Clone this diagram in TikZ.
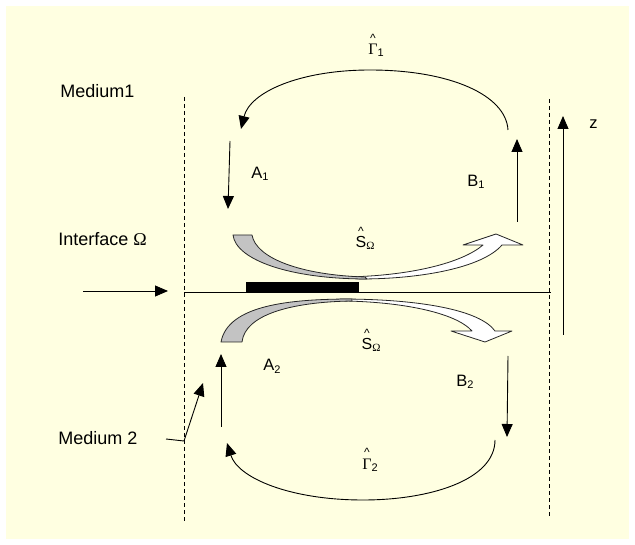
\documentclass[tikz,border=0pt]{standalone}
\usepackage{fontspec}
\setmainfont{Liberation Sans}
\newfontfamily\serifgr{Liberation Serif}
\usetikzlibrary{arrows.meta}
\definecolor{bgyellow}{RGB}{255,255,225}
\definecolor{tailgray}{RGB}{195,195,195}
\newcommand{\lowsub}[1]{\raisebox{-2pt}{\fontsize{11}{11}\selectfont #1}}
\newcommand{\lowgsub}[1]{\raisebox{-2pt}{\serifgr\fontsize{11}{11}\selectfont #1}}
\newcommand{\hatted}[2]{\leavevmode\ooalign{\hidewidth\raisebox{12.5pt}{\fontsize{12}{12}\selectfont\textasciicircum}\hidewidth\cr #1\cr}\rlap{#2}}
\begin{document}
\begin{tikzpicture}[x=1pt,y=-1pt,
  line width=0.9pt,
  tip/.style={-{Triangle[length=13pt,width=11pt]}},
  guide/.style={dash pattern=on 4pt off 3pt, line width=0.8pt},
  lbl/.style={inner sep=0pt, anchor=base west, font=\fontsize{16.5}{18}\selectfont},
  medium/.style={inner sep=0pt, anchor=base west, font=\fontsize{18}{20}\selectfont},
  gam/.style={inner sep=0pt, anchor=base, font=\fontsize{16}{18}\selectfont},
  band/.style={draw=black!85, line width=0.8pt, line join=round}
]
\useasboundingbox (0,0) rectangle (635,545);
\fill[bgyellow] (6,6) rectangle (629,539);

% guides
\draw[guide] (184,97) -- (184,521);
\draw[guide] (549,99) -- (549,516);
% interface
\coordinate (ifL) at (184,292);
\coordinate (ifR) at (551,292);
\draw[line width=0.8pt] (ifL) -- (ifR);
\fill (246,282) rectangle (359,293);
\coordinate (inS) at (83,291);
\coordinate (inE) at (168,291);
\draw[tip] (inS) -- (inE);

% z axis
\coordinate (zS) at (563,335);
\coordinate (zE) at (563,116);
\draw[tip] (zS) -- (zE);
\node[lbl] (z) at (589,129) {z};

% texts
\node[medium] (m1) at (60,98) {Medium1};
\node[medium] (iface) at (58,246) {Interface {\serifgr Ω}};
\node[medium] (m2) at (58,445) {Medium 2};

% straight arrows
\coordinate (a1s) at (230,141); \coordinate (a1e) at (228,209);
\coordinate (b1s) at (517,222); \coordinate (b1e) at (517,139);
\coordinate (a2s) at (221,427); \coordinate (a2e) at (221,354);
\coordinate (b2s) at (508,356); \coordinate (b2e) at (507,437);
\draw[tip] (a1s) -- (a1e);
\draw[tip] (b1s) -- (b1e);
\draw[tip] (a2s) -- (a2e);
\draw[tip] (b2s) -- (b2e);
\node[lbl] (A1) at (251,179) {A\lowsub{1}};
\node[lbl] (B1) at (467,187) {B\lowsub{1}};
\node[lbl] (A2) at (263,371) {A\lowsub{2}};
\node[lbl] (B2) at (456,387) {B\lowsub{2}};

% medium 2 pointer
\coordinate (p0) at (166,439);
\coordinate (p1) at (184,441);
\coordinate (p2) at (203,383);
\draw[tip] (p0) -- (p1) -- (p2);

% Gamma arcs
\coordinate (g1s) at (508,130);
\coordinate (g1t) at (370,70);
\coordinate (g1e) at (241,129);
\draw[tip] (g1s) .. controls (506,95) and (450,70) .. (g1t)
                .. controls (300,70) and (250,92) .. (g1e);
\coordinate (g2s) at (495,440);
\coordinate (g2b) at (363,500);
\coordinate (g2e) at (227,443);
\draw[tip] (g2s) .. controls (495,480) and (430,500) .. (g2b)
                .. controls (290,500) and (238,478) .. (g2e);

\node[gam] (G1) at (373,55) {\hatted{\serifgr Γ}{\lowsub{1}}};
\node[gam] (G2) at (367,469) {\hatted{\serifgr Γ}{\lowsub{2}}};

% upper curved arrow
\draw[band, fill=white] (360,279) .. controls (420,279) and (482,268) .. (502,245)
   -- (523,245) -- (496,234) -- (463,245) -- (483,245)
   .. controls (462,263) and (410,276) .. (345,277) -- cycle;
\draw[band, fill=tailgray] (233,235) .. controls (236,260) and (290,279) .. (367,279)
   -- (365,277) .. controls (300,275) and (256,258) .. (252,235) -- cycle;
\node[gam] (S1) at (361,248) {\hatted{S}{\lowgsub{Ω}}};

% lower curved arrow
\draw[band, fill=white] (340,299) .. controls (420,299) and (480,310) .. (495,331)
   -- (512,331) -- (485,342) -- (451,331) -- (472,331)
   .. controls (455,312) and (400,302) .. (345,301) -- cycle;
\draw[band, fill=tailgray] (221,342) .. controls (228,305) and (290,299) .. (352,299)
   -- (352,301) .. controls (290,302) and (245,315) .. (242,342) -- cycle;
\node[gam] (S2) at (367,350) {\hatted{S}{\lowgsub{Ω}}};
\end{tikzpicture}
\end{document}
